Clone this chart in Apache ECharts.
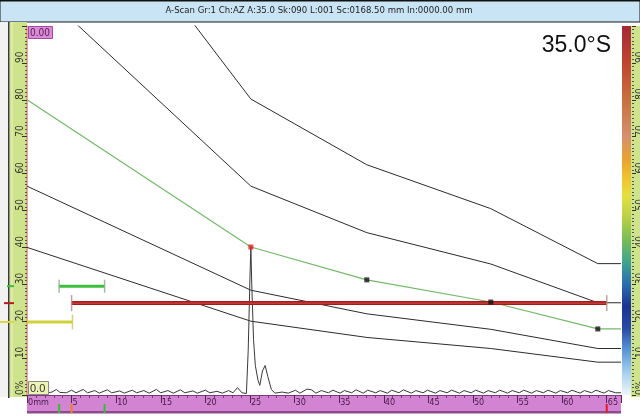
<!DOCTYPE html>
<html>
<head>
<meta charset="utf-8">
<script src="https://cdn.jsdelivr.net/npm/echarts@6/dist/echarts.min.js"></script>
<style>html,body{margin:0;padding:0;background:#fff}#c{width:640px;height:416px}</style>
</head>
<body>
<div id="c"></div>
<script>
// ---- data ----
const titleText = 'A-Scan Gr:1 Ch:AZ A:35.0 Sk:090 L:001 Sc:0168.50 mm In:0000.00 mm';
const angleText = '35.0°S';
const xTicks = [0, 5, 10, 15, 20, 25, 30, 35, 40, 45, 50, 55, 60, 65];
const yTicks = [0, 10, 20, 30, 40, 50, 60, 70, 80, 90];
// DAC / TCG curves (x in mm, amplitude in %)
const dacMm  = [0, 25.1, 38.1, 52.0, 64.0, 66.6];
const dacRef = [80, 40.1, 31.2, 25.2, 17.9, 17.9];
const dacP6  = [160, 80.2, 62.4, 50.5, 35.6, 35.6];
const dacP3  = [113, 56.6, 44.0, 35.5, 25.0, 25.0];
const dacM3  = [56.6, 28.4, 22.0, 17.8, 12.6, 12.6];
const dacM6  = [40, 20.0, 15.6, 12.6, 8.9, 8.9];
const dacPointMm  = [25.1, 38.1, 52.0, 64.0];
const dacPointAmp = [40.1, 31.2, 25.2, 17.9];
// gates: [start mm, end mm, level %]
const gateA = [5.0, 65.0, 24.9];   // red
const gateB = [3.6, 8.7, 29.5];    // green
const gateI = [0.0, 5.1, 19.8];    // yellow
// A-scan signal
const waveMm = [2.3,2.8,3.3,3.7,4.4,5.0,5.5,6.3,6.8,7.6,8.1,9.0,9.5,10.4,10.9,11.8,12.3,13.1,13.7,14.5,15.0,15.8,16.4,17.2,17.7,18.6,19.1,20.0,20.5,21.3,21.9,22.6,23.1,23.6,24.1,24.6,24.8,25.0,25.1,25.2,25.4,25.6,25.9,26.1,26.4,26.7,27.0,27.4,27.8,28.6,29.3,30.1,30.6,31.4,31.9,32.4,33.0,33.8,34.3,35.1,35.6,36.4,36.9,37.7,38.2,39.1,39.6,40.4,40.9,41.7,42.2,43.1,43.6,44.4,44.9,45.8,46.3,47.1,47.6,48.5,49.0,49.8,50.3,51.2,51.7,52.5,53.0,53.9,54.4,55.2,55.7,56.6,57.1,57.9,58.4,59.3,59.8,60.6,61.1,62.0,62.5,63.3,63.8,64.7,65.2,66.0,66.6];
const waveAmp = [0.6,0.8,1.5,0.7,0.6,1.3,0.6,1.5,0.6,1.2,0.5,1.4,0.6,1.1,0.5,1.3,0.6,1.2,0.5,1.5,0.6,1.2,0.5,1.4,0.6,1.1,0.5,1.3,0.6,1.0,0.5,1.2,0.6,2.0,0.6,0.4,12,32,40,30,15,8,4,2.6,6.5,8,5,1.5,0.5,0.8,0.5,1.3,0.5,1.6,1.4,0.5,1.2,0.6,1.3,0.5,1.2,0.6,1.4,0.5,1.3,0.6,1.2,0.5,1.3,0.6,1.4,0.5,1.2,0.6,1.3,0.5,1.2,0.6,1.3,0.5,1.2,0.6,1.3,0.5,1.2,0.6,1.3,0.5,1.2,0.6,1.3,0.5,1.2,0.6,1.3,0.5,1.2,0.6,1.3,0.5,1.2,0.6,1.3,0.5,1.2,0.6,0.6];

const zip = (a, b) => a.map((v, i) => [v, b[i]]);
const chart = echarts.init(document.getElementById('c'));
const X0 = 27, X1 = 621, YT = 26, YB = 395;

const dacLine = (arr, color, w) => ({
  type: 'line', data: zip(dacMm, arr), symbol: 'none', silent: true,
  lineStyle: { color: color, width: w }, z: 3, animation: false
});
const gateSeries = (g, outer, inner, capColor, capH) => {
  const s = [{
    type: 'line', data: [[g[0], g[2]], [g[1], g[2]]], symbol: 'none', clip: false,
    lineStyle: { color: outer, width: inner ? 4 : 3 }, z: 4, animation: false
  }];
  if (inner) s.push({ type: 'line', data: [[g[0], g[2]], [g[1], g[2]]], symbol: 'none', clip: false,
    lineStyle: { color: inner, width: 1 }, z: 5, animation: false });
  s.push({ type: 'scatter', data: [[g[1], g[2]]].concat(g[0] > 0 ? [[g[0], g[2]]] : []), symbol: 'rect',
    symbolSize: [1.5, capH], itemStyle: { color: capColor }, z: 6, animation: false });
  return s;
};
const narrow = 'Liberation Sans Narrow, DejaVu Sans Condensed, sans-serif';

chart.setOption({
  animation: false,
  grid: { left: X0, right: 640 - X1, top: YT, bottom: 416 - YB, show: false, containLabel: false, outerBoundsMode: 'none' },
  xAxis: {
    type: 'value', min: 0, max: 66.6, interval: 5, position: 'bottom',
    axisLine: { show: true, lineStyle: { color: '#7a3a7a', width: 1 } },
    axisTick: { show: true, length: 8, lineStyle: { color: '#5a205a' } },
    minorTick: { show: true, splitNumber: 5, length: 3, lineStyle: { color: '#7a3a7a' } },
    axisLabel: { fontSize: 9, color: '#4a1a4a', align: 'left', margin: 3, padding: [0, 0, 0, 1],
      showMaxLabel: false, fontFamily: narrow,
      formatter: v => v === 0 ? '0mm' : String(v) },
    splitLine: { show: false }
  },
  yAxis: [{
    type: 'value', min: 0, max: 100, interval: 10, position: 'left',
    axisLine: { show: true, lineStyle: { color: '#e08a7a', width: 1.5 } },
    axisTick: { show: true, length: 5, lineStyle: { color: '#333' } },
    minorTick: { show: true, splitNumber: 10, length: 2, lineStyle: { color: '#555' } },
    axisLabel: { rotate: 90, fontSize: 10, color: '#333', margin: 7, align: 'left', verticalAlign: 'middle',
      showMaxLabel: false, fontFamily: narrow,
      formatter: v => v === 0 ? '0%' : String(v) },
    splitLine: { show: false }
  }, {
    type: 'value', min: 0, max: 100, interval: 10, position: 'right', offset: 11,
    axisLine: { show: false },
    axisTick: { show: true, length: 4, inside: false, lineStyle: { color: '#333' } },
    minorTick: { show: true, splitNumber: 10, length: 2, lineStyle: { color: '#555' } },
    axisLabel: { rotate: 90, fontSize: 10, color: '#333', margin: 8, align: 'left', verticalAlign: 'middle',
      showMaxLabel: false, fontFamily: narrow,
      formatter: v => v === 0 ? '0%' : String(v) },
    splitLine: { show: false }
  }],
  series: [
    dacLine(dacP6, '#2b2b2b', 1),
    dacLine(dacP3, '#2b2b2b', 1),
    dacLine(dacM3, '#2b2b2b', 1),
    dacLine(dacM6, '#2b2b2b', 1),
    dacLine(dacRef, '#74b86a', 1.2),
    { type: 'line', data: zip(waveMm, waveAmp), symbol: 'none', lineStyle: { color: '#3a3a3a', width: 1 }, z: 3, animation: false },
    ...gateSeries(gateA, '#a31c1c', '#dd4a4a', '#b08888', 16),
    ...gateSeries(gateB, '#3cbf3c', null, '#8aaa8a', 13),
    ...gateSeries(gateI, '#cfd23a', null, '#c8c860', 15),
    { type: 'scatter', data: zip(dacPointMm, dacPointAmp), symbol: 'rect', symbolSize: 5, z: 7,
      itemStyle: { color: p => p.dataIndex === 0 ? '#e02020' : '#111' }, animation: false }
  ]
});

// decorations
const px = (mm, pct) => chart.convertToPixel({ gridIndex: 0 }, [mm, pct]);
const yA = px(0, gateA[2])[1], yB = px(0, gateB[2])[1], yI = px(0, gateI[2])[1];
const mk = (x, color) => ({ type: 'rect', shape: { x: x - 1, y: 404, width: 2, height: 9 }, style: { fill: color }, z: 20 });
chart.setOption({
  graphic: [
    // title bar
    { type: 'rect', shape: { x: 0, y: 0, width: 640, height: 22 }, style: { fill: '#c9e4f5', stroke: '#1a1a1a', lineWidth: 1 }, z: -5 },
    { type: 'rect', shape: { x: 0, y: 0, width: 640, height: 1.5 }, style: { fill: '#111' }, z: -4 },
    { type: 'text', x: 319, y: 11, style: { text: titleText, fontSize: 9.5, fill: '#222', align: 'center', verticalAlign: 'middle',
      fontFamily: narrow }, z: 20 },
    // left margin + ruler
    { type: 'rect', shape: { x: 0, y: 22, width: 8, height: 375 }, style: { fill: '#f2f2f2' }, z: -5 },
    { type: 'rect', shape: { x: 8, y: 22, width: 1.5, height: 376 }, style: { fill: '#3a3a3a' }, z: -4 },
    { type: 'rect', shape: { x: 9.5, y: 22, width: 17.5, height: 375 }, style: { fill: '#cde38c' }, z: -5 },
    { type: 'rect', shape: { x: 11.5, y: 22, width: 1, height: 375 }, style: { fill: '#f4f0c0' }, z: -4 },
    { type: 'rect', shape: { x: 7, y: yB - 1, width: 7, height: 2 }, style: { fill: '#3cbf3c' }, z: 20 },
    { type: 'rect', shape: { x: 4, y: yA - 1, width: 10, height: 2 }, style: { fill: '#b02020' }, z: 20 },
    { type: 'rect', shape: { x: 0, y: yI - 1, width: 14, height: 2 }, style: { fill: '#d8d840' }, z: 20 },
    // bottom magenta ruler
    { type: 'rect', shape: { x: X0, y: 395.5, width: X1 - X0, height: 16 }, style: { fill: '#d283d2' }, z: -5 },
    { type: 'rect', shape: { x: X0, y: 411, width: X1 - X0, height: 2.5 }, style: { fill: '#8e4a8e' }, z: -4 },
    mk(px(gateB[0], 0)[0], '#30c030'), mk(px(gateB[1], 0)[0], '#30c030'),
    mk(px(gateA[0], 0)[0], '#f08020'), mk(px(gateA[1], 0)[0], '#e02020'),
    // right colour bar + ruler
    { type: 'rect', shape: { x: 622, y: YT, width: 9, height: YB - YT }, z: -5,
      style: { fill: new echarts.graphic.LinearGradient(0, 0, 0, 1, [
        { offset: 0, color: '#a42838' }, { offset: 0.1, color: '#bf4630' }, { offset: 0.2, color: '#c8703e' },
        { offset: 0.3, color: '#d49070' }, { offset: 0.36, color: '#e8a232' }, { offset: 0.42, color: '#f0c830' },
        { offset: 0.46, color: '#e4e040' }, { offset: 0.52, color: '#b8d048' }, { offset: 0.58, color: '#78bc58' },
        { offset: 0.64, color: '#3ea490' }, { offset: 0.7, color: '#2c6cb0' }, { offset: 0.76, color: '#1c3490' },
        { offset: 0.82, color: '#2a4aa8' }, { offset: 0.88, color: '#5a98d8' }, { offset: 0.94, color: '#a8d0f0' },
        { offset: 1, color: '#eef6fc' }]) } },
    { type: 'rect', shape: { x: 631, y: YT, width: 9, height: YB - YT + 2 }, style: { fill: '#cde38c' }, z: -5 },
    // angle label
    { type: 'text', x: 611, y: 46, style: { text: angleText, fontSize: 23, fill: '#111', align: 'right', verticalAlign: 'middle',
      fontFamily: 'Liberation Sans, Arial, sans-serif' }, z: 20 },
    // value boxes
    { type: 'rect', shape: { x: 28.5, y: 26.5, width: 24, height: 12 }, style: { fill: '#d98bd6', stroke: '#a04aa0', lineWidth: 1 }, z: 20 },
    { type: 'text', x: 30, y: 33, style: { text: '0.00', fontSize: 10, fill: '#5a1a5a', verticalAlign: 'middle',
      fontFamily: narrow }, z: 21 },
    { type: 'rect', shape: { x: 28.5, y: 381.5, width: 20, height: 13 }, style: { fill: '#eef3b4', stroke: '#8a8a8a', lineWidth: 1 }, z: 20 },
    { type: 'text', x: 30, y: 388.5, style: { text: '0.0', fontSize: 11, fill: '#333', verticalAlign: 'middle',
      fontFamily: 'Liberation Sans, Arial, sans-serif' }, z: 21 }
  ]
});
</script>
</body>
</html>
